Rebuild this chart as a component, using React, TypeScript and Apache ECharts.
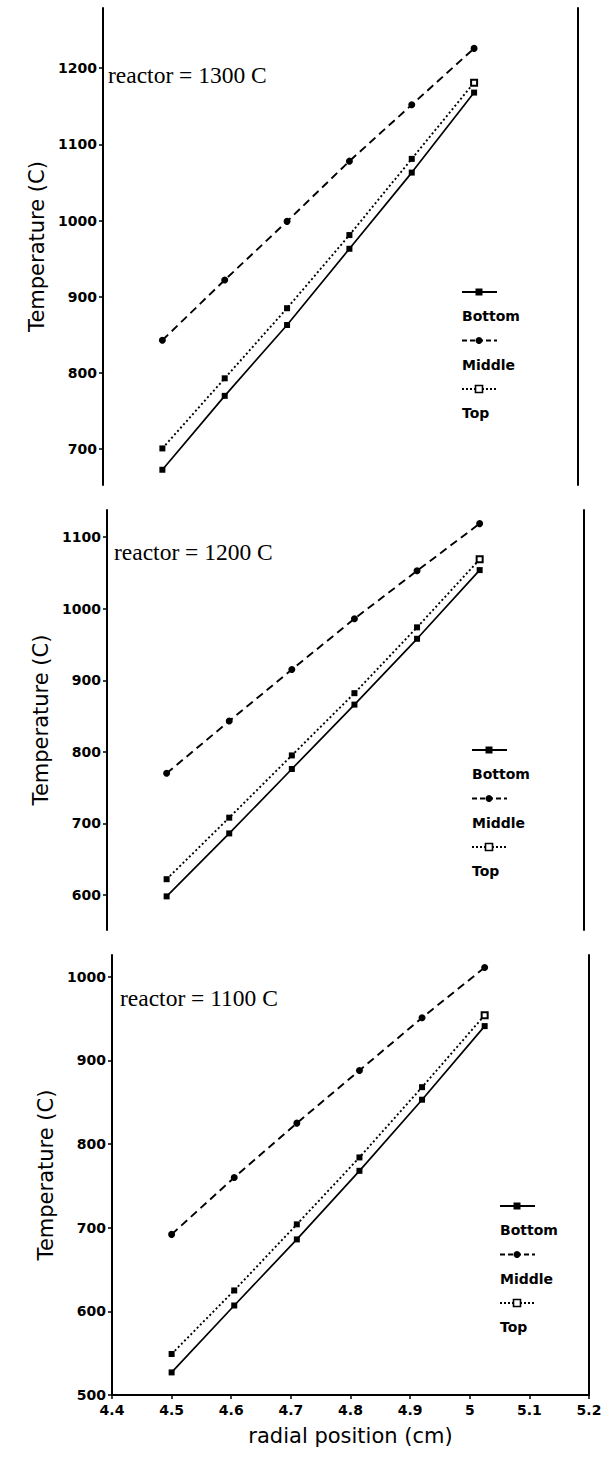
import React, { useEffect, useRef } from "react";
import * as echarts from "echarts";

// ---- data ----
const radialPositions = [4.5, 4.605, 4.71, 4.815, 4.92, 5.025];
const seriesNames = ["Bottom", "Middle", "Top"];

const bottom1300 = [673, 770, 863, 963, 1063, 1168];
const middle1300 = [843, 922, 999, 1078, 1152, 1226];
const top1300 = [701, 793, 885, 981, 1081, 1181];

const bottom1200 = [598, 686, 776, 866, 958, 1054];
const middle1200 = [770, 843, 915, 986, 1053, 1119];
const top1200 = [622, 708, 795, 882, 974, 1069];

const bottom1100 = [527, 607, 686, 768, 853, 941];
const middle1100 = [692, 760, 825, 888, 951, 1011];
const top1100 = [549, 625, 704, 784, 868, 954];

const panelTitles = ["reactor = 1300 C", "reactor = 1200 C", "reactor = 1100 C"];
const yTicks1300 = [700, 800, 900, 1000, 1100, 1200];
const yTicks1200 = [600, 700, 800, 900, 1000, 1100];
const yTicks1100 = [500, 600, 700, 800, 900, 1000];
const yRanges = [
  [653, 1279],
  [551, 1138],
  [500, 1026],
];
const xMin = 4.4;
const xMax = 5.2;
const xInterval = 0.1;
const xAxisName = "radial position (cm)";
const yAxisName = "Temperature (C)";

// ---- layout ----
const panelLayout = [
  { left: 103, width: 475, top: 8, height: 477, title: [108, 75], legend: [462, 292] },
  { left: 107, width: 477, top: 510, height: 420, title: [114, 552], legend: [472, 750] },
  { left: 112, width: 477, top: 955, height: 440, title: [120, 998], legend: [500, 1206] },
];

const SANS = '"DejaVu Sans", sans-serif';
const SERIF = '"Liberation Serif", "Times New Roman", serif';

export default function App() {
  const ref = useRef<HTMLDivElement>(null);

  useEffect(() => {
    document.body.style.margin = "0";
    if (!ref.current) return;
    const chart = echarts.init(ref.current, null, { renderer: "svg" });

    const panelData = [
      [bottom1300, middle1300, top1300],
      [bottom1200, middle1200, top1200],
      [bottom1100, middle1100, top1100],
    ];
    const panelTicks = [yTicks1300, yTicks1200, yTicks1100];

    const grids: any[] = [];
    const xAxes: any[] = [];
    const yAxes: any[] = [];
    const series: any[] = [];
    const graphics: any[] = [];

    const lineTypes: any[] = ["solid", [8, 5], [2, 2.5]];
    const lineWidths = [1.7, 1.9, 1.9];

    panelLayout.forEach((p, i) => {
      grids.push({ left: p.left, width: p.width, top: p.top, height: p.height, containLabel: false });
      const isLast = i === panelLayout.length - 1;
      xAxes.push({
        type: "value",
        gridIndex: i,
        min: xMin,
        max: xMax,
        interval: xInterval,
        show: isLast,
        name: isLast ? xAxisName : "",
        nameLocation: "middle",
        nameGap: 30,
        nameTextStyle: { fontFamily: SANS, fontSize: 21, color: "#000" },
        axisLine: { show: true, onZero: false, lineStyle: { color: "#000", width: 2 } },
        axisTick: { show: true, length: 4, lineStyle: { color: "#000", width: 1.5 } },
        axisLabel: {
          color: "#000",
          fontFamily: SANS,
          fontWeight: "bold",
          fontSize: 14,
          margin: 8,
          formatter: (v: number) => String(Math.round(v * 10) / 10),
        },
        splitLine: { show: false },
      });
      yAxes.push({
        type: "value",
        gridIndex: i,
        position: "left",
        min: yRanges[i][0],
        max: yRanges[i][1],
        name: yAxisName,
        nameLocation: "middle",
        nameGap: 55,
        nameTextStyle: { fontFamily: SANS, fontSize: 21, color: "#000" },
        axisLine: { show: true, lineStyle: { color: "#000", width: 2 } },
        axisTick: { show: true, length: 4, customValues: panelTicks[i], lineStyle: { color: "#000", width: 1.5 } },
        axisLabel: {
          show: true,
          customValues: panelTicks[i],
          color: "#000",
          fontFamily: SANS,
          fontWeight: "bold",
          fontSize: 14,
          margin: 6,
          formatter: (v: number) => String(v),
        },
        splitLine: { show: false },
      });
      yAxes.push({
        type: "value",
        gridIndex: i,
        position: "right",
        min: yRanges[i][0],
        max: yRanges[i][1],
        axisLine: { show: true, lineStyle: { color: "#000", width: 2 } },
        axisTick: { show: false },
        axisLabel: { show: false },
        splitLine: { show: false },
      });

      const sets = panelData[i];
      sets.forEach((vals, k) => {
        series.push({
          name: seriesNames[k],
          type: "line",
          xAxisIndex: i,
          yAxisIndex: i * 2,
          data: radialPositions.map((x, j) => {
            if (k === 2) {
              const last = j === radialPositions.length - 1;
              return {
                value: [x, vals[j]],
                symbol: last ? "emptyRect" : "rect",
                itemStyle: last ? { color: "#000", borderColor: "#000", borderWidth: 1.5 } : { color: "#000" },
              };
            }
            return [x, vals[j]];
          }),
          symbol: k === 0 ? "rect" : k === 1 ? "circle" : "rect",
          symbolSize: k === 1 ? 7 : 6,
          itemStyle: { color: "#000" },
          lineStyle: { color: "#000", width: lineWidths[k], type: lineTypes[k] },
          z: 3 - k,
        });
      });

      // panel title
      graphics.push({
        type: "text",
        x: p.title[0],
        y: p.title[1],
        style: {
          text: panelTitles[i],
          fontFamily: SERIF,
          fontSize: 23.5,
          fill: "#000",
          verticalAlign: "middle",
          align: "left",
        },
      });

      // legend
      const [lx, ly] = p.legend;
      const step = 48.5;
      seriesNames.forEach((nm, k) => {
        const sy = ly + k * step;
        graphics.push({
          type: "line",
          shape: { x1: lx, y1: sy, x2: lx + 35, y2: sy },
          style: {
            stroke: "#000",
            lineWidth: 2,
            lineDash: k === 0 ? null : k === 1 ? [5, 3] : [2, 2],
          },
        });
        const cx = lx + 17;
        if (k === 1) {
          graphics.push({ type: "circle", shape: { cx, cy: sy, r: 3.5 }, style: { fill: "#000" } });
        } else if (k === 0) {
          graphics.push({ type: "rect", shape: { x: cx - 3.5, y: sy - 3.5, width: 7, height: 7 }, style: { fill: "#000" } });
        } else {
          graphics.push({
            type: "rect",
            shape: { x: cx - 3.5, y: sy - 3.5, width: 7, height: 7 },
            style: { fill: "#fff", stroke: "#000", lineWidth: 1.6 },
          });
        }
        graphics.push({
          type: "text",
          x: lx,
          y: sy + 24,
          style: {
            text: nm,
            fontFamily: SANS,
            fontWeight: "bold",
            fontSize: 14,
            fill: "#000",
            verticalAlign: "middle",
            align: "left",
          },
        });
      });
    });

    chart.setOption({
      animation: false,
      backgroundColor: "#fff",
      grid: grids,
      xAxis: xAxes,
      yAxis: yAxes,
      series,
      graphic: graphics,
    });

    return () => chart.dispose();
  }, []);

  return <div ref={ref} style={{ width: 608, height: 1461 }} />;
}
